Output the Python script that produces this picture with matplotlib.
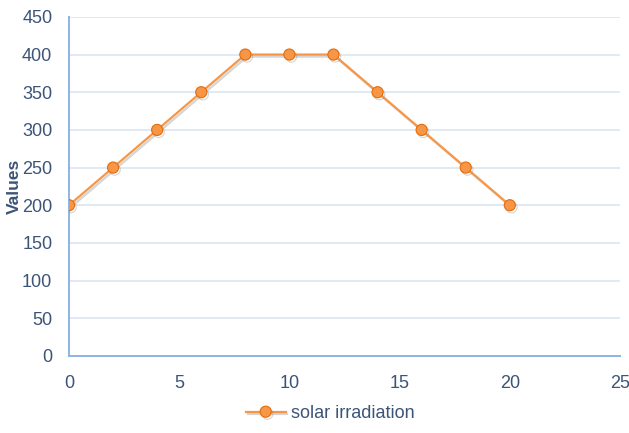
import matplotlib
matplotlib.use("Agg")
import matplotlib.pyplot as plt
import matplotlib.patheffects as pe

hours = [0, 2, 4, 6, 8, 10, 12, 14, 16, 18, 20]
irradiance = [200, 250, 300, 350, 400, 400, 400, 350, 300, 250, 200]
series_name = "solar irradiation"
y_label = "Values"

text_color = "#3b5478"
grid_color = "#dce6f2"
axis_color = "#8eb4e3"
line_color = "#f79646"
edge_color = "#e46c0a"

plt.rcParams["font.family"] = ["Liberation Sans", "DejaVu Sans"]

fig = plt.figure(figsize=(6.29, 4.33), dpi=100)
ax = fig.add_axes([0.1097, 0.178, 0.876, 0.783])

shadow = [pe.SimpleLineShadow(offset=(1.2, -1.5), shadow_color="#888888", alpha=0.35), pe.Normal()]
ax.plot(hours, irradiance, color=line_color, lw=1.6, marker="o", markersize=8,
        markerfacecolor=line_color, markeredgecolor=edge_color, markeredgewidth=0.8,
        label=series_name, path_effects=shadow, zorder=3)

ax.set_xlim(0, 25)
ax.set_ylim(0, 450)
ax.set_xticks(range(0, 26, 5))
ax.set_yticks(range(0, 451, 50))
ax.yaxis.grid(True, color=grid_color, lw=1.2)
ax.set_axisbelow(True)

for side in ("top", "right"):
    ax.spines[side].set_visible(False)
for side in ("left", "bottom"):
    ax.spines[side].set_color(axis_color)
    ax.spines[side].set_linewidth(1.4)

ax.tick_params(axis="both", length=0, labelsize=13, colors=text_color)
ax.tick_params(axis="x", pad=14)
ax.tick_params(axis="y", pad=12)

ax.set_ylabel(y_label, fontsize=12.5, fontweight="bold", color=text_color)
ax.yaxis.set_label_coords(-0.085, 0.5)

leg = fig.legend(loc="center", bbox_to_anchor=(0.525, 0.045), frameon=False,
                 fontsize=13, handlelength=2.2, handletextpad=0.3)
for t in leg.get_texts():
    t.set_color(text_color)

fig.savefig("out.png", dpi=100)
